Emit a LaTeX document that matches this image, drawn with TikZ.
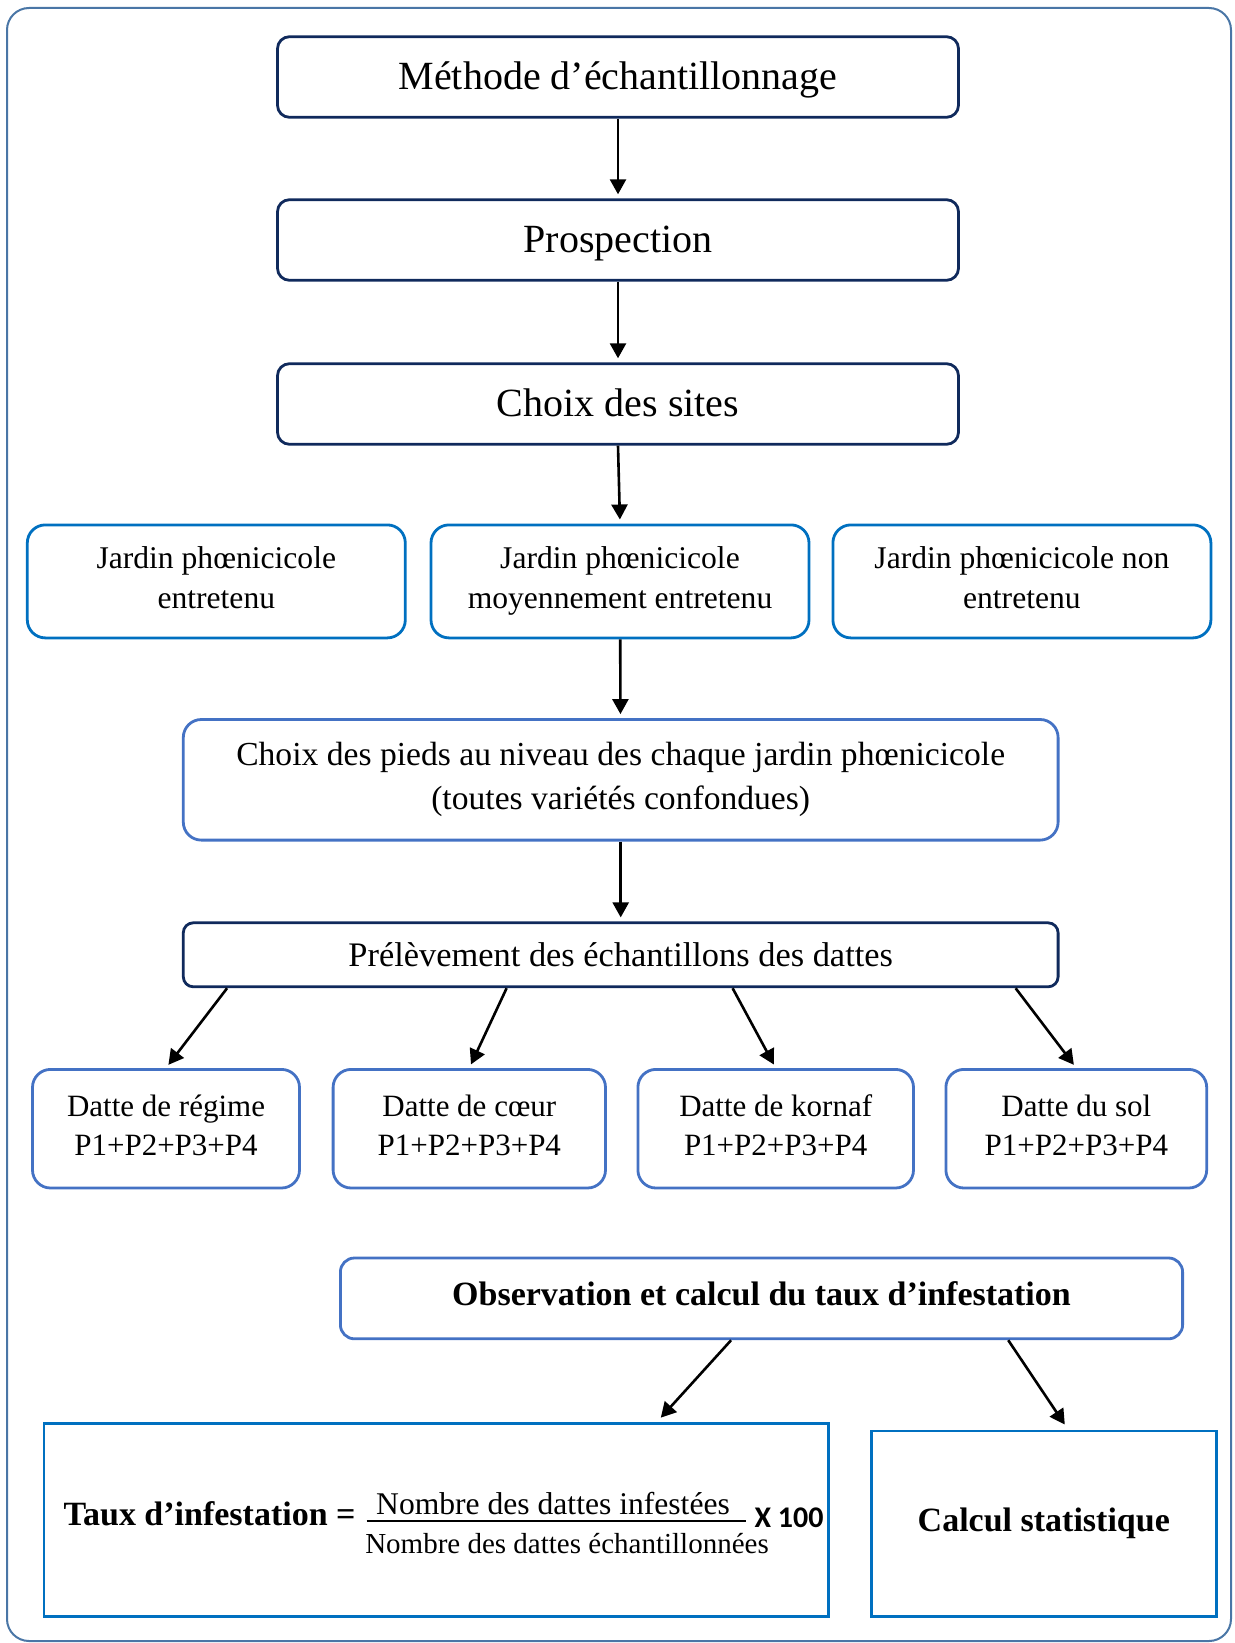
\documentclass[tikz,border=0pt]{standalone}
\usepackage{fontspec}
\setmainfont{Liberation Serif}
\newfontfamily\calibrifont{Carlito}
\usetikzlibrary{arrows.meta,calc}
\definecolor{framecol}{RGB}{74,118,166}
\definecolor{navycol}{RGB}{16,42,92}
\definecolor{bluecol}{RGB}{0,112,192}
\definecolor{lightcol}{RGB}{68,114,196}

\begin{document}
\begin{tikzpicture}[x=0.5pt, y=-0.5pt,
    topbox/.style={draw=navycol, line width=1.4pt, rounded corners=6pt, minimum width=340.5pt, minimum height=40.3pt, text height=15.5pt, text depth=3pt, font=\fontsize{20}{24}\selectfont},
    jardin/.style={draw=bluecol, line width=1.4pt, rounded corners=9pt, minimum width=189pt, minimum height=56.5pt, align=center, font=\fontsize{15.8}{20}\selectfont, execute at begin node=\vphantom{É}, execute at end node=\vphantom{y}},
    piedsbox/.style={draw=lightcol, line width=1.4pt, rounded corners=9pt, minimum width=437.4pt, minimum height=60.3pt, align=center, font=\fontsize{16.8}{22}\selectfont},
    prelbox/.style={draw=navycol, line width=1.4pt, rounded corners=5pt, minimum width=437.4pt, minimum height=32pt, font=\fontsize{17.2}{20}\selectfont},
    dattebox/.style={draw=lightcol, line width=1.4pt, rounded corners=9pt, minimum height=59.3pt, align=center, font=\fontsize{15.5}{19.4}\selectfont, execute at end node=\vphantom{g}},
    obsbox/.style={draw=lightcol, line width=1.4pt, rounded corners=7pt, minimum width=421.1pt, minimum height=40.4pt, text height=12pt, text depth=5pt, font=\fontsize{17}{20}\selectfont\bfseries},
    resbox/.style={draw=bluecol, line width=1.4pt, font=\fontsize{17}{20}\selectfont\bfseries},
    link/.style={-{Triangle[length=7.5pt,width=8pt]}, line width=1.3pt, shorten >=2pt}]
        \useasboundingbox (0,0) rectangle (1235,1643);
        \draw[framecol, line width=1pt, rounded corners=11pt] (7,8) rectangle (1231,1641);

        \coordinate (C1) at (618,77);
        \coordinate (C2) at (618,240);
        \coordinate (C3) at (618,404);
        \coordinate (J1) at (216.3,581.4);
        \coordinate (J2) at (620,581.4);
        \coordinate (J3) at (1021.9,581.4);
        \coordinate (P1) at (620.7,779.8);
        \coordinate (P2) at (620.7,954.8);
        \coordinate (D1) at (166,1128.7);
        \coordinate (D2) at (469.3,1128.7);
        \coordinate (D3) at (775.7,1128.7);
        \coordinate (D4) at (1076.3,1128.7);
        \coordinate (O1) at (761.5,1298.4);
        \coordinate (R1) at (436.3,1519.9);
        \coordinate (R2) at (1043.8,1523.6);

        \node[topbox] (meth) at (C1) {Méthode d’échantillonnage};
        \node[topbox] (prosp) at (C2) {Prospection};
        \node[topbox] (sites) at (C3) {Choix des sites};

        \node[jardin] (jard1) at (J1) {Jardin phœnicicole\\entretenu};
        \node[jardin] (jard2) at (J2) {Jardin phœnicicole\\moyennement entretenu};
        \node[jardin] (jard3) at (J3) {Jardin phœnicicole non\\entretenu};

        \node[piedsbox] (pieds) at (P1) {Choix des pieds au niveau des chaque jardin phœnicicole\\(toutes variétés confondues)};
        \node[prelbox] (prel) at (P2) {Prélèvement des échantillons des dattes};

        \node[dattebox, minimum width=133.5pt] (datte1) at (D1) {Datte de régime\\P1+P2+P3+P4};
        \node[dattebox, minimum width=136.2pt] (datte2) at (D2) {Datte de cœur\\P1+P2+P3+P4};
        \node[dattebox, minimum width=137.8pt] (datte3) at (D3) {Datte de kornaf\\P1+P2+P3+P4};
        \node[dattebox, minimum width=130.4pt] (datte4) at (D4) {Datte du sol\\P1+P2+P3+P4};

        \node[obsbox] (obs) at (O1) {Observation et calcul du taux d’infestation};

        \node[resbox, minimum width=392.3pt, minimum height=96.4pt] (tauxbox) at (R1) {};
        \node[resbox, minimum width=172.3pt, minimum height=92.7pt] (calcbox) at (R2) {Calcul statistique};

        \node[anchor=base east, inner sep=0pt, font=\fontsize{17}{20}\selectfont\bfseries] (tauxlbl) at (356,1525) {Taux d’infestation =};
        \node[anchor=base, inner sep=0pt, font=\fontsize{15.8}{18}\selectfont] (numer) at (553,1514) {Nombre des dattes infestées};
        \node[anchor=base, inner sep=0pt, font=\fontsize{14.5}{16}\selectfont] (denom) at (567,1553) {Nombre des dattes échantillonnées};
        \node[anchor=base, inner sep=0pt, font=\fontsize{15}{18}\selectfont\calibrifont\bfseries] (fois) at (789,1527) {X 100};
        \coordinate (B1) at (366.6,1521);
        \coordinate (B2) at (745.8,1521);
        \draw[line width=1.3pt] (B1) -- (B2);

        \draw[link] (meth) -- (prosp);
        \draw[link] (prosp) -- (sites);
        \draw[link] (sites.south) -- (jard2.north);
        \draw[link] (jard2) -- (pieds);
        \draw[link] (pieds) -- (prel);

        \draw[link] ($(prel.south west)!0.0515!(prel.south east)$) -- (datte1.north);
        \draw[link] ($(prel.south west)!0.37!(prel.south east)$) -- (datte2.north);
        \draw[link] ($(prel.south west)!0.6275!(prel.south east)$) -- (datte3.north);
        \draw[link] ($(prel.south west)!0.95!(prel.south east)$) -- (datte4.north);

        \draw[link, shorten >=3pt] ($(obs.south west)!0.464!(obs.south east)$) -- ($(tauxbox.north west)!0.78!(tauxbox.north east)$);
        \draw[link, shorten >=3pt] ($(obs.south west)!0.792!(obs.south east)$) -- ($(calcbox.north west)!0.57!(calcbox.north east)$);
\end{tikzpicture}
\end{document}
